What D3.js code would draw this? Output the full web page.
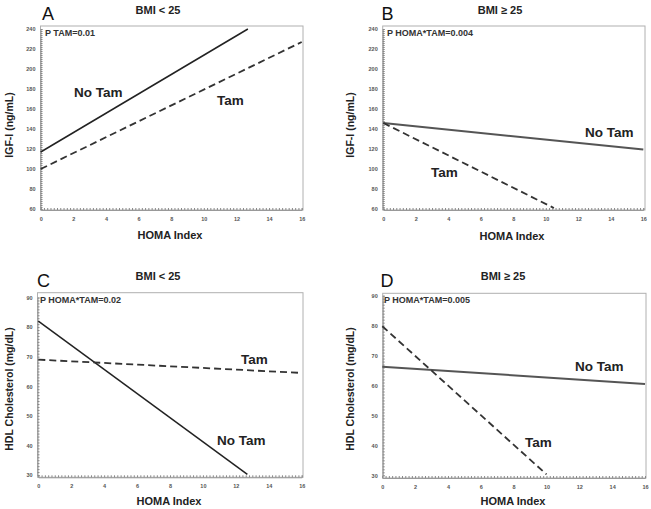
<!DOCTYPE html>
<html><head><meta charset="utf-8">
<script src="https://cdn.jsdelivr.net/npm/d3@7"></script>
<style>body{margin:0;background:#fff}svg{display:block}text{font-family:"Liberation Sans",Arial,sans-serif}</style>
</head><body><svg id="c" width="651" height="509"></svg>
<script>
// ---- data ----
const homaTicks = [0,2,4,6,8,10,12,14,16];
const igfTicks = [60,80,100,120,140,160,180,200,220,240];
const hdlTicks = [30,40,50,60,70,80,90];
const panelLetters = ["A","B","C","D"];
const panelTitles = ["BMI < 25","BMI \u2265 25","BMI < 25","BMI \u2265 25"];
const pTexts = ["P TAM=0.01","P HOMA*TAM=0.004","P HOMA*TAM=0.02","P HOMA*TAM=0.005"];
const yLabels = ["IGF-I (ng/mL)","IGF-I (ng/mL)","HDL Cholesterol (mg/dL)","HDL Cholesterol (mg/dL)"];
const xLabel = "HOMA Index";
const aNoTam = [[0,117],[12.7,240]];
const aTam   = [[0,100],[16,227]];
const bNoTam = [[0,146],[16,119.5]];
const bTam   = [[0,146],[10.5,61]];
const cNoTam = [[0,82],[12.7,30.2]];
const cTam   = [[0,69],[16,64.5]];
const dNoTam = [[0,66.3],[16,60.5]];
const dTam   = [[0,79.8],[10,30.3]];

// ---- layout ----
const svg = d3.select("#c");
const panels = [
  {x0:40.7,x1:301.7,yT:29,yB:209,fL:40.5,fR:303,fT:26,fB:210, yd:[60,240], yt:igfTicks, minor:4, noTam:aNoTam, tam:aTam, solidCol:"#222",
   letter:[42,20], title:[158,14], p:[45,36], lab:{nt:[74,97], t:[217,105]}, ylab:[13,125], xlab:[170,239]},
  {x0:383.3,x1:643.3,yT:29,yB:209,fL:382.7,fR:645,fT:26,fB:210, yd:[60,240], yt:igfTicks, minor:4, noTam:bNoTam, tam:bTam, solidCol:"#555",
   letter:[381.5,20], title:[500,14], p:[387,36], lab:{nt:[585,137], t:[431,176.5]}, ylab:[354,125], xlab:[512,240]},
  {x0:38.3,x1:301.7,yT:297.5,yB:475,fL:37.5,fR:303,fT:292.7,fB:477.3, yd:[30,90], yt:hdlTicks, minor:2, noTam:cNoTam, tam:cTam, solidCol:"#222",
   letter:[37,287], title:[158,280], p:[40,302.7], lab:{nt:[217,445], t:[241,364]}, ylab:[13,389], xlab:[169,505]},
  {x0:382.3,x1:645,yT:295.7,yB:475.3,fL:382.7,fR:646,fT:293.3,fB:478, yd:[30,90], yt:hdlTicks, minor:2, noTam:dNoTam, tam:dTam, solidCol:"#555",
   letter:[380.5,287], title:[503,280], p:[384,302.7], lab:{nt:[575,370.7], t:[525,447.3]}, ylab:[354,389], xlab:[513,505]}
];

panels.forEach((P,i)=>{
  const x = d3.scaleLinear().domain([0,16]).range([P.x0,P.x1]);
  const y = d3.scaleLinear().domain(P.yd).range([P.yB,P.yT]);
  const g = svg.append("g");
  // frame
  g.append("rect").attr("x",P.fL).attr("y",P.fT).attr("width",P.fR-P.fL).attr("height",P.fB-P.fT)
    .attr("fill","none").attr("stroke","#b0b0b0").attr("stroke-width",1);
  // x axis minor ticks
  const xMinor = d3.range(0,16.001,0.2);
  const xa = g.append("g").attr("transform",`translate(0,${P.fB})`)
    .call(d3.axisBottom(x).tickValues(xMinor).tickSize(-2).tickFormat(""));
  xa.select(".domain").attr("stroke","#999");
  xa.selectAll(".tick line").attr("stroke","#888");
  const xm = g.append("g").attr("transform",`translate(0,${P.fB})`)
    .call(d3.axisBottom(x).tickValues(homaTicks).tickSize(0).tickPadding(7).tickFormat(d3.format("d")));
  xm.select(".domain").remove();
  xm.selectAll("text").attr("font-size",5.5).attr("font-weight","bold").attr("fill","#555");
  // y axis
  const step = (P.yd[1]-P.yd[0])/((P.yt.length-1)*P.minor*2.5);
  const yMinor = d3.range(P.yd[0],P.yd[1]+0.001,(P.yt[1]-P.yt[0])/10);
  const ya = g.append("g").attr("transform",`translate(${P.fL},0)`)
    .call(d3.axisLeft(y).tickValues(yMinor).tickSize(-2).tickFormat(""));
  ya.select(".domain").attr("stroke","#999");
  ya.selectAll(".tick line").attr("stroke","#888");
  const ym = g.append("g").attr("transform",`translate(${P.fL},0)`)
    .call(d3.axisLeft(y).tickValues(P.yt).tickSize(0).tickPadding(5).tickFormat(d3.format("d")));
  ym.select(".domain").remove();
  ym.selectAll("text").attr("font-size",5.5).attr("font-weight","bold").attr("fill","#555");
  // lines
  const line = d3.line().x(d=>x(d[0])).y(d=>y(d[1]));
  g.append("path").datum(P.noTam).attr("d",line).attr("fill","none").attr("stroke",P.solidCol).attr("stroke-width",P.solidCol==="#222"?1.5:2);
  g.append("path").datum(P.tam).attr("d",line).attr("fill","none").attr("stroke","#333").attr("stroke-width",1.8).attr("stroke-dasharray","7,4");
  // texts
  g.append("text").attr("x",P.letter[0]).attr("y",P.letter[1]).attr("font-size",18).attr("fill","#111").text(panelLetters[i]);
  g.append("text").attr("x",P.title[0]).attr("y",P.title[1]).attr("text-anchor","middle").attr("font-size",11).attr("font-weight","bold").attr("fill","#222").text(panelTitles[i]);
  g.append("text").attr("x",P.p[0]).attr("y",P.p[1]).attr("font-size",9).attr("font-weight","bold").attr("fill","#333").text(pTexts[i]);
  g.append("text").attr("x",P.lab.nt[0]).attr("y",P.lab.nt[1]).attr("font-size",13.5).attr("font-weight","bold").attr("fill","#222").text("No Tam");
  g.append("text").attr("x",P.lab.t[0]).attr("y",P.lab.t[1]).attr("font-size",13.5).attr("font-weight","bold").attr("fill","#222").text("Tam");
  g.append("text").attr("transform",`translate(${P.ylab[0]},${P.ylab[1]}) rotate(-90)`).attr("text-anchor","middle")
    .attr("font-size",10.5).attr("font-weight","bold").attr("fill","#222").text(yLabels[i]);
  g.append("text").attr("x",P.xlab[0]).attr("y",P.xlab[1]).attr("text-anchor","middle").attr("font-size",11).attr("font-weight","bold").attr("fill","#222").text(xLabel);
});
</script></body></html>
